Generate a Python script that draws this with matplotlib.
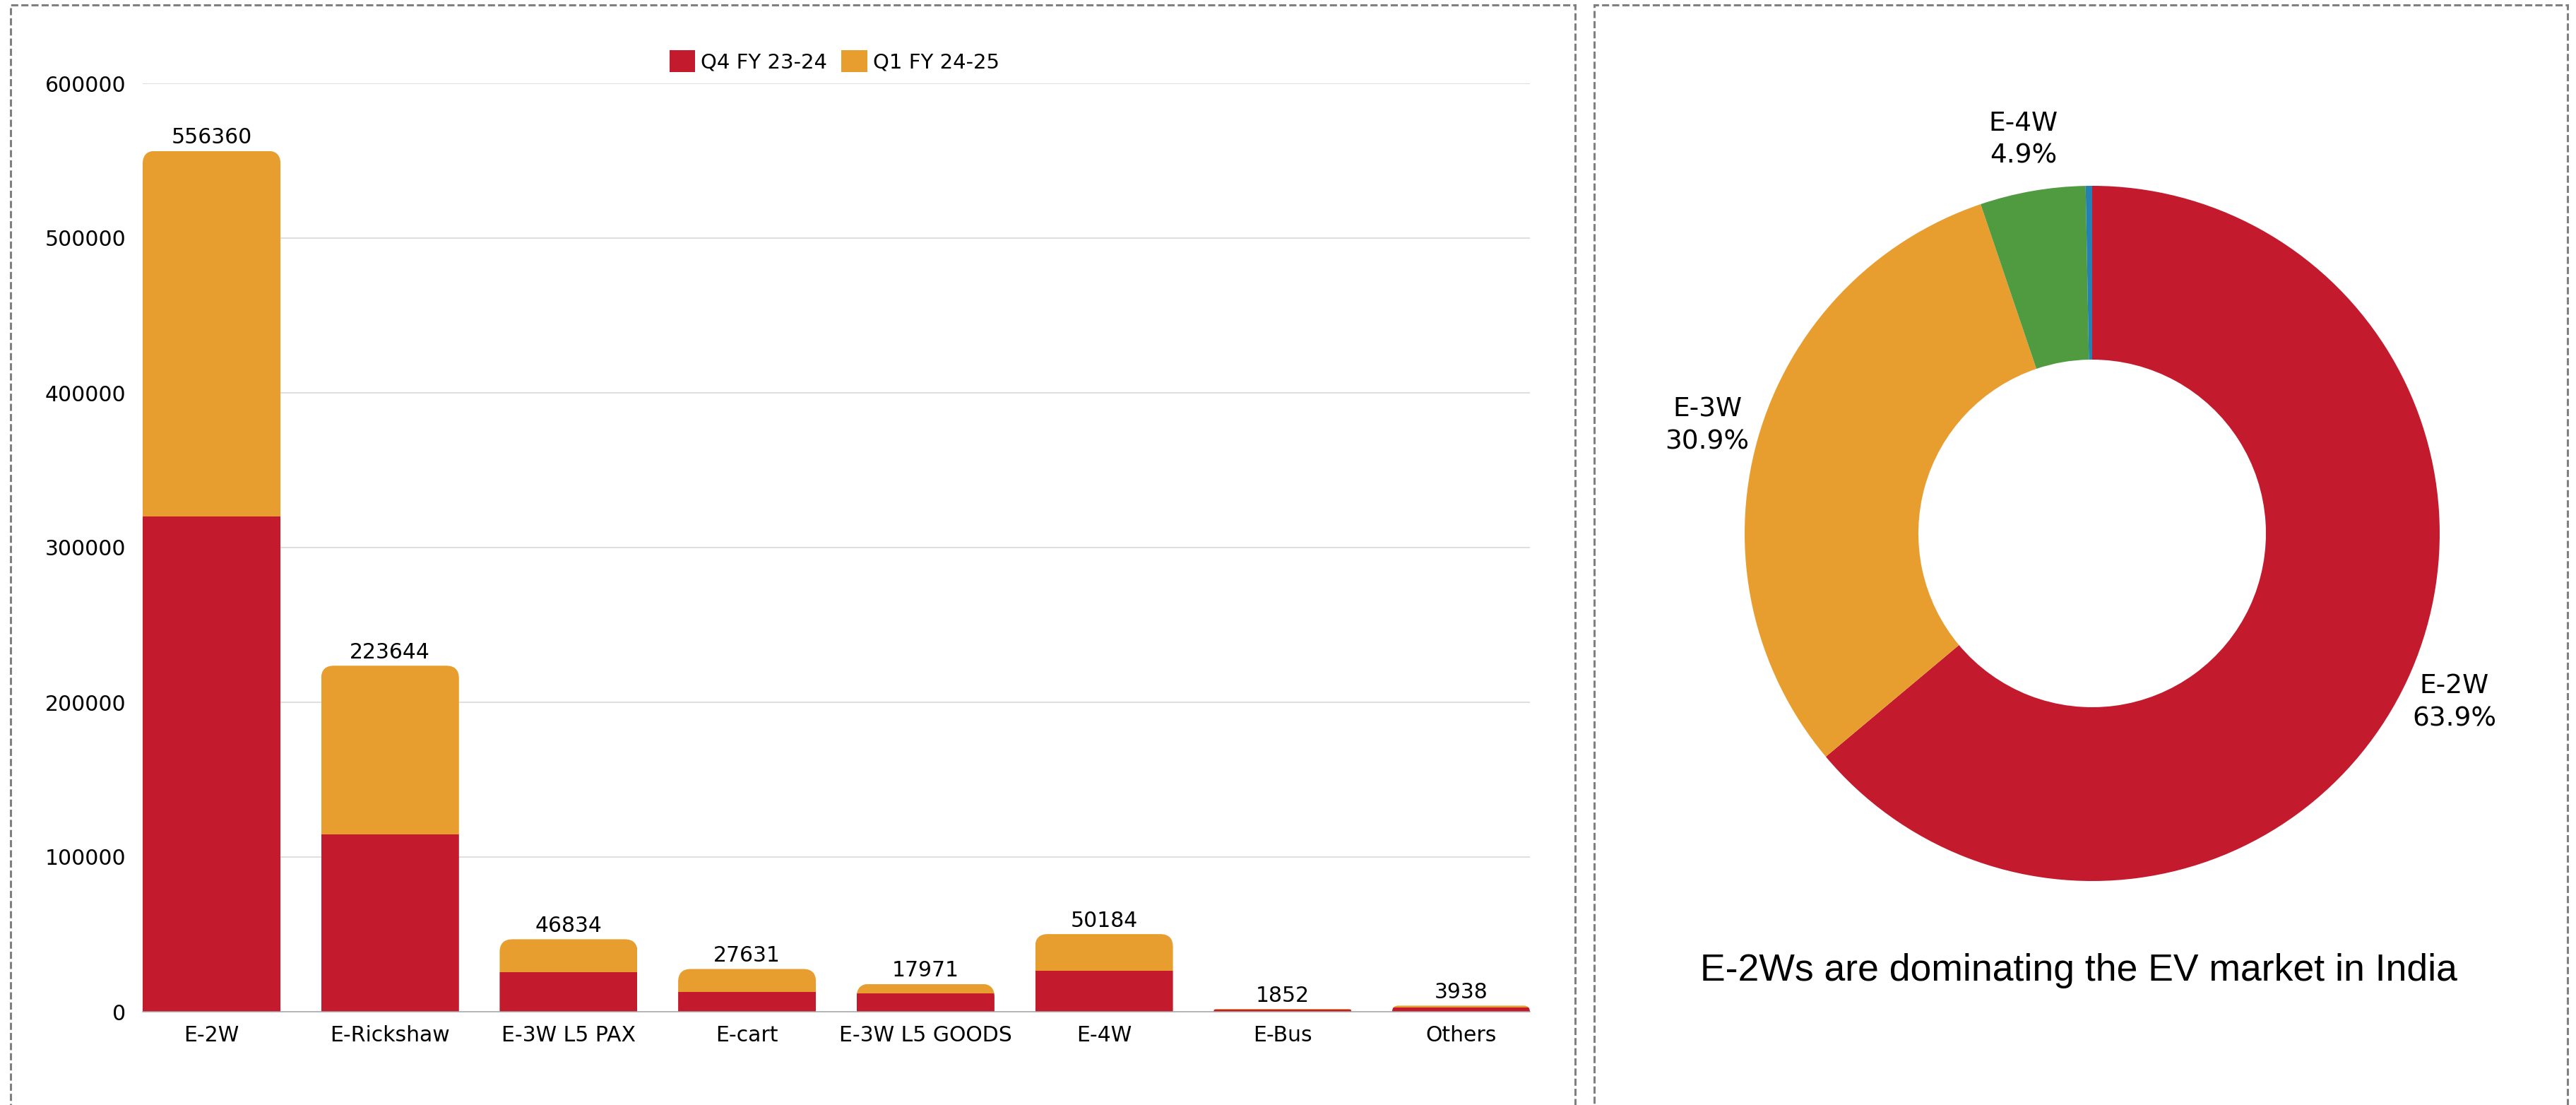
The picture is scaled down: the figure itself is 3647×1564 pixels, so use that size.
#Stacked bars of EV sales by segment (left) and donut of segment share (right)
import numpy as np
import matplotlib.pyplot as plt
from matplotlib.patches import FancyBboxPatch, Rectangle

categories = ['E-2W', 'E-Rickshaw', 'E-3W L5 PAX', 'E-cart', 'E-3W L5 GOODS',
              'E-4W', 'E-Bus', 'Others']
totals = [556360, 223644, 46834, 27631, 17971, 50184, 1852, 3938]
q4_values = [320200, 114500, 25700, 12900, 11700, 26300, 1200, 2600]
q1_values = [t - q for t, q in zip(totals, q4_values)]
series_names = ['Q4 FY 23-24', 'Q1 FY 24-25']

pie_names = ['E-2W', 'E-3W', 'E-4W', 'Others']
pie_shares = [63.9, 30.9, 4.9, 0.3]

RED = '#C41A2E'
ORANGE = '#E89E2E'
GREEN = '#509B40'
BLUE = '#2580B3'

W, H, DPI = 3648, 1564, 100
plt.rcParams['font.family'] = 'DejaVu Sans'
fig = plt.figure(figsize=(W / DPI, H / DPI), dpi=DPI)


def px_box(left, top, right, bottom):
    # pixel box (from top-left) -> figure fraction rect
    return [left / W, 1 - bottom / H, (right - left) / W, (bottom - top) / H]


# Left: stacked bars
ax = fig.add_axes(px_box(202, 118, 2166, 1432))
x = np.arange(len(categories))
bw = 0.772
b1 = ax.bar(x, q4_values, bw, color=RED, label=series_names[0])
b2 = ax.bar(x, q1_values, bw, bottom=q4_values, color=ORANGE, label=series_names[1])
ax.set_xlim(-bw / 2, len(categories) - 1 + bw / 2)
ax.set_ylim(0, 600000)
ax.set_yticks(range(0, 600001, 100000))
ax.set_xticks(x, categories)
ax.grid(axis='y', color='#d6d6d6', lw=1.1)
ax.set_axisbelow(True)
for s in ['top', 'right', 'left']:
    ax.spines[s].set_visible(False)
ax.spines['bottom'].set_color('#a6a6a6')
ax.spines['bottom'].set_linewidth(1.1)
ax.tick_params(length=0, labelsize=21.5)
ax.tick_params(axis='x', pad=14)
ax.tick_params(axis='y', pad=17)

# rounded top corners only: clip box starts well below zero
px_x = ax.transData.transform((1, 0))[0] - ax.transData.transform((0, 0))[0]
px_y = (ax.transData.transform((0, 100000))[1] - ax.transData.transform((0, 0))[1]) / 100000
aspect = px_x / px_y
r_px = 18
below = 60 / px_y
for lo, hi, tot in zip(b1, b2, totals):
    rs = min(r_px / px_x, hi.get_width() / 2, tot / aspect)
    clip = FancyBboxPatch((hi.get_x(), -below), hi.get_width(), tot + below,
                          boxstyle=f'round,pad=0,rounding_size={rs}',
                          mutation_aspect=aspect, transform=ax.transData)
    hi.set_clip_path(clip)
    lo.set_clip_path(clip)

ax.bar_label(b2, labels=[str(t) for t in totals], padding=3, fontsize=21.5)
ax.legend(loc='center', bbox_to_anchor=(0.4985, 1.0236), ncol=2, frameon=False,
          fontsize=21, handlelength=1.25, handleheight=1.25,
          handletextpad=0.27, columnspacing=0.7)

# Right: donut
pax = fig.add_axes(px_box(2347, 140, 3577, 1370))
wedges, _ = pax.pie(pie_shares, colors=[RED, ORANGE, GREEN, BLUE], startangle=90,
                    counterclock=False, radius=1,
                    wedgeprops=dict(width=0.5, linewidth=0))
pax.set_xlim(-1.25, 1.25)
pax.set_ylim(-1.25, 1.25)
for wedge, name, share in zip(wedges, pie_names, pie_shares):
    if share < 1:
        continue
    ang = np.deg2rad((wedge.theta1 + wedge.theta2) / 2)
    pax.text(1.15 * np.cos(ang), 1.15 * np.sin(ang), f'{name}\n{share}%',
             ha='center', va='center', fontsize=27, linespacing=1.35)

fig.text(2943 / W, 1 - 1388 / H, 'E-2Ws are dominating the EV market in India',
         ha='center', va='baseline', fontsize=38.5, family='Liberation Sans')

# dashed panel borders (open at the bottom)
for l, r in [(15, 2230), (2257, 3635)]:
    fig.add_artist(Rectangle((l / W, -0.02), (r - l) / W, 1.02 - 7 / H,
                             transform=fig.transFigure, fill=False, ec='#808080',
                             lw=2.2, ls=(0, (3.3, 1.4))))

fig.savefig('out.png', dpi=DPI)
